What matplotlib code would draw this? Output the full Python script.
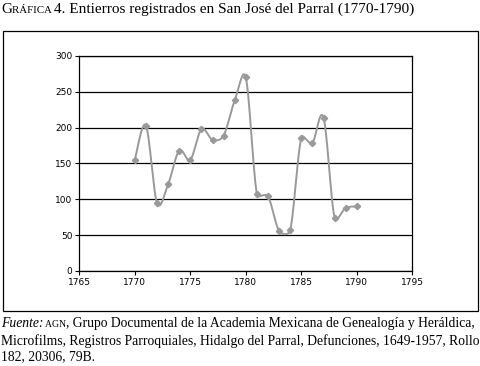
import matplotlib.pyplot as plt
import numpy as np
from matplotlib.offsetbox import HPacker, TextArea, AnchoredOffsetbox
from matplotlib.patches import Rectangle

years = [1770, 1771, 1772, 1773, 1774, 1775, 1776, 1777, 1778, 1779, 1780,
         1781, 1782, 1783, 1784, 1785, 1786, 1787, 1788, 1789, 1790]
burials = [155, 203, 95, 121, 168, 155, 198, 183, 189, 238, 270,
           107, 104, 56, 57, 186, 179, 214, 74, 88, 90]
x_ticks = [1765, 1770, 1775, 1780, 1785, 1790, 1795]
y_ticks = [0, 50, 100, 150, 200, 250, 300]

LINE = "#999999"
SERIF = "Liberation Serif"


def smooth(ax, xs, ys, n=24):
    # Excel-like smoothed line, built in display space then mapped back
    p = ax.transData.transform(np.column_stack([xs, ys]).astype(float))
    p = np.vstack([p[0], p, p[-1]])
    f = 1 / 6
    t = np.linspace(0, 1, n)[:, None]
    out = []
    for i in range(1, len(p) - 2):
        p0, p1, p2, p3 = p[i - 1], p[i], p[i + 1], p[i + 2]
        d12 = np.hypot(*(p2 - p1))
        d02 = np.hypot(*(p2 - p0))
        d13 = np.hypot(*(p3 - p1))
        b1 = f if d02 * f < d12 / 2 else (d12 / 2) / d02
        b2 = f if d13 * f < d12 / 2 else (d12 / 2) / d13
        c1 = p1 + b1 * (p2 - p0)
        c2 = p2 - b2 * (p3 - p1)
        seg = (1 - t) ** 3 * p1 + 3 * (1 - t) ** 2 * t * c1 + 3 * (1 - t) * t ** 2 * c2 + t ** 3 * p2
        out.append(seg if i == 1 else seg[1:])
    out = ax.transData.inverted().transform(np.vstack(out))
    return out[:, 0], out[:, 1]


fig = plt.figure(figsize=(4.8, 3.66), dpi=100)
ax = fig.add_axes([0.1652, 0.2596, 0.6938, 0.5874])
ax.set_xlim(1765, 1795)
ax.set_ylim(0, 300)

sx, sy = smooth(ax, years, burials)
ax.plot(sx, sy, color=LINE, lw=1.4, zorder=3)
ax.plot(years, burials, ls="none", marker="D", ms=3.2, color=LINE, zorder=4)

ax.set_xticks(x_ticks)
ax.set_yticks(y_ticks)
ax.tick_params(labelsize=6.5, length=3, width=0.8, pad=2, colors="black")
ax.yaxis.grid(True, color="black", lw=0.9)
ax.set_axisbelow(True)
for s in ax.spines.values():
    s.set_linewidth(0.9)

# outer chart border
fig.add_artist(Rectangle((3 / 480, 1 - 311 / 366), 475 / 480, 280 / 366,
                         transform=fig.transFigure, fill=False, lw=0.9, ec="black"))

# title with small caps
title = HPacker(children=[
    TextArea("G", textprops=dict(family=SERIF, size=11)),
    TextArea("RÁFICA ", textprops=dict(family=SERIF, size=7.8)),
    TextArea("4. Entierros registrados en San José del Parral (1770-1790)",
             textprops=dict(family=SERIF, size=11)),
], pad=0, sep=0, align="baseline")
fig.add_artist(AnchoredOffsetbox(loc="upper left", child=title, pad=0, frameon=False,
                                 bbox_to_anchor=(1 / 480, 1 - 3 / 366),
                                 bbox_transform=fig.transFigure, borderpad=0))

# source note
note_size = 9.8
line1 = HPacker(children=[
    TextArea("Fuente:", textprops=dict(family=SERIF, size=note_size, style="italic")),
    TextArea(" AGN", textprops=dict(family=SERIF, size=7)),
    TextArea(", Grupo Documental de la Academia Mexicana de Genealogía y Heráldica,",
             textprops=dict(family=SERIF, size=note_size)),
], pad=0, sep=0, align="baseline")
fig.add_artist(AnchoredOffsetbox(loc="upper left", child=line1, pad=0, frameon=False,
                                 bbox_to_anchor=(1 / 480, 1 - 317 / 366),
                                 bbox_transform=fig.transFigure, borderpad=0))
fig.text(1 / 480, 1 - 341 / 366,
         "Microfilms, Registros Parroquiales, Hidalgo del Parral, Defunciones, 1649-1957, Rollo",
         family=SERIF, size=note_size, va="center")
fig.text(1 / 480, 1 - 357 / 366, "182, 20306, 79B.", family=SERIF, size=note_size, va="center")

fig.savefig("out.png", dpi=100)
